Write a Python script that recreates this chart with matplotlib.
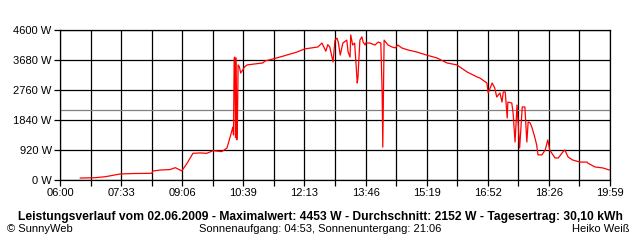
import matplotlib
matplotlib.use('Agg')
import matplotlib.pyplot as plt

plt.rcParams['font.family'] = ['Liberation Sans', 'DejaVu Sans']

times = ['06:31', '06:53', '07:09', '07:32', '07:55', '08:20', '08:22', '08:33', '08:48', '08:56',
         '09:06', '09:14', '09:23', '09:34', '09:44', '09:54', '10:07', '10:15', '10:20', '10:24',
         '10:25', '10:26', '10:27', '10:28', '10:29', '10:30', '10:31', '10:32', '10:34', '10:36',
         '10:42', '10:46', '11:10', '11:13', '11:25', '11:41', '12:02', '12:14', '12:34', '12:40',
         '12:46', '12:49', '12:52', '12:57', '13:00', '13:03', '13:05', '13:08', '13:12', '13:18',
         '13:20', '13:23', '13:24', '13:27', '13:30', '13:34', '13:35', '13:38', '13:41', '13:43',
         '13:46', '13:47', '13:53', '14:01', '14:06', '14:10', '14:12', '14:13', '14:14', '14:15',
         '14:21', '14:27', '14:32', '14:36', '14:42', '14:51', '15:05', '15:20', '15:36', '15:51',
         '16:06', '16:22', '16:37', '16:41', '16:52', '16:54', '17:00', '17:04', '17:07', '17:12',
         '17:15', '17:17', '17:20', '17:23', '17:24', '17:30', '17:32', '17:35', '17:38', '17:42',
         '17:46', '17:50', '17:53', '17:55', '17:58', '18:01', '18:05', '18:08', '18:10', '18:16',
         '18:21', '18:25', '18:28', '18:36', '18:41', '18:48', '18:51', '18:56', '19:03', '19:14',
         '19:25', '19:26', '19:37', '19:49', '19:59']
power = [60, 70, 100, 185, 200, 205, 275, 306, 320, 378,
         280, 510, 818, 830, 818, 900, 870, 980, 1330, 1625,
         1380, 3740, 3770, 1300, 3740, 1230, 1780, 3530, 3470, 3280,
         3470, 3530, 3590, 3650, 3710, 3800, 3925, 4020, 4080, 4200,
         3950, 4150, 4080, 3620, 4290, 4350, 4230, 3830, 4200, 4290,
         3925, 3770, 4450, 4140, 4200, 2975, 3130, 4290, 4390, 4230,
         4140, 4200, 4200, 4140, 4230, 4200, 2670, 1010, 2670, 4290,
         4140, 4080, 4050, 4140, 4050, 3990, 3925, 3830, 3740, 3590,
         3530, 3310, 3160, 3130, 2975, 2670, 2975, 2820, 2545, 2670,
         2390, 2700, 2700, 1900, 2390, 2360, 2055, 1165, 2300, 980,
         2240, 2240, 1165, 1780, 1750, 1595, 1320, 1075, 770, 770,
         920, 1230, 920, 675, 675, 860, 920, 705, 613, 550,
         550, 520, 400, 370, 307]

average = 2152
y_ticks = [0, 920, 1840, 2760, 3680, 4600]
x_labels = ['06:00', '07:33', '09:06', '10:39', '12:13', '13:46', '15:19', '16:52', '18:26', '19:59']

def to_min(s):
    h, m = s.split(':')
    return (int(h) - 6) * 60 + int(m)

x = [to_min(t) for t in times]

fig = plt.figure(figsize=(6.4, 2.4), dpi=100)
ax = fig.add_axes([60 / 640, 60 / 240, 550 / 640, 150 / 240])

ax.set_xlim(0, 840)
ax.set_ylim(0, 4600)

step = 840 / 18
xt = [i * step for i in range(19)]
ax.set_xticks(xt)
ax.set_xticklabels([x_labels[i // 2] if i % 2 == 0 else '' for i in range(19)])
ax.set_yticks(y_ticks)
ax.set_yticklabels(['%d W' % v for v in y_ticks])

ax.grid(True, color='black', linewidth=0.9)
ax.set_axisbelow(True)
ax.tick_params(direction='out', length=4, width=0.9, color='black', labelsize=8, pad=2)
for sp in ax.spines.values():
    sp.set_color('black')
    sp.set_linewidth(0.9)

ax.axhline(average, color='#808080', linewidth=0.9, zorder=2)
ax.plot(x, power, color='red', linewidth=0.9, zorder=3)

fig.text(0.5, 1 - 217 / 240, 'Leistungsverlauf vom 02.06.2009 - Maximalwert: 4453 W - Durchschnitt: 2152 W - Tagesertrag: 30,10 kWh',
         ha='center', va='center', fontsize=8.7, fontweight='bold')
fig.text(7 / 640, 1 - 229 / 240, '\u00a9 SunnyWeb', ha='left', va='center', fontsize=8)
fig.text(0.5, 1 - 229 / 240, 'Sonnenaufgang: 04:53, Sonnenuntergang: 21:06', ha='center', va='center', fontsize=8)
fig.text(630 / 640, 1 - 229 / 240, 'Heiko Wei\u00df', ha='right', va='center', fontsize=8)

fig.savefig('out.png', dpi=100)
